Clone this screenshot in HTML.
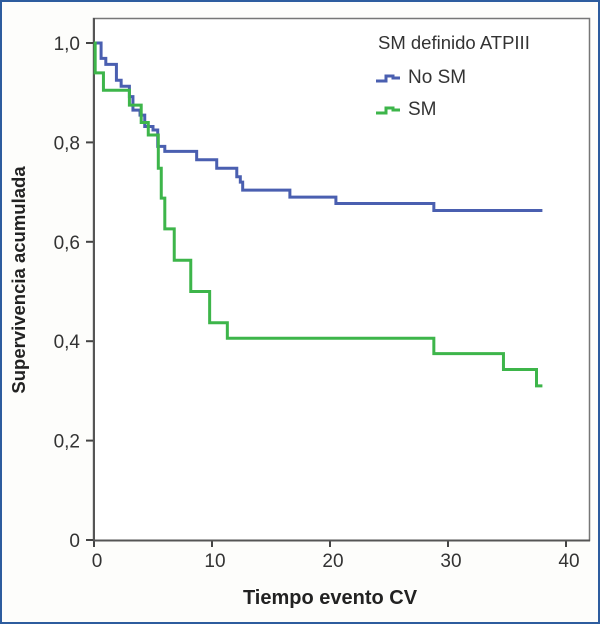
<!DOCTYPE html>
<html><head><meta charset="utf-8"><style>
body{margin:0;background:#fff;}
svg{display:block;font-family:"Liberation Sans",sans-serif;}
</style></head><body>
<svg id="chart" width="600" height="624" viewBox="0 0 600 624">
<rect x="1" y="1" width="598" height="622" fill="#fdfdfb" stroke="#2d5c9e" stroke-width="2"/>
<rect x="93.5" y="18.5" width="496" height="522" fill="#fff" stroke="#777" stroke-width="1.5"/>
<g id="axes"></g>
<g id="series"></g>
<text x="0" y="0" transform="translate(25,280) rotate(-90)" text-anchor="middle" font-size="18.5" font-weight="bold" fill="#222">Supervivencia acumulada</text>
<text x="330" y="604" text-anchor="middle" font-size="20" font-weight="bold" fill="#222">Tiempo evento CV</text>
<g>
<text x="378" y="49" font-size="18.5" fill="#333">SM definido ATPIII</text>
<path d="M376 81 H386 V76 H393 V78 H400" fill="none" stroke="#4a5fb0" stroke-width="3"/>
<text x="408" y="83" font-size="19" fill="#333">No SM</text>
<path d="M376 113 H386 V108 H393 V110 H400" fill="none" stroke="#3db54a" stroke-width="3"/>
<text x="408" y="115" font-size="19" fill="#333">SM</text>
</g>
</svg>
<script>
const xTicks=[0,10,20,30,40];
const yTicks=[0,0.2,0.4,0.6,0.8,1.0];
const yTickLabels=["0","0,2","0,4","0,6","0,8","1,0"];
const noSmTimes=[0,0.6,1.0,1.9,2.3,3.0,3.3,3.9,4.3,5.0,5.4,6.0,8.7,10.4,12.1,12.4,12.6,16.6,20.5,28.8,38];
const noSmSurv=[1.0,0.969,0.957,0.925,0.913,0.892,0.865,0.855,0.832,0.825,0.792,0.782,0.765,0.748,0.731,0.72,0.704,0.69,0.677,0.663,0.663];
const smTimes=[0,0.1,0.8,3.0,4.0,4.6,5.45,5.7,6.0,6.8,8.2,9.8,11.3,28.8,34.7,37.5,38];
const smSurv=[1.0,0.94,0.905,0.875,0.84,0.815,0.748,0.688,0.626,0.563,0.5,0.437,0.406,0.375,0.343,0.31,0.31];
const sx=t=>94+t*11.8;
const sy=v=>540-v*497;
const NS="http://www.w3.org/2000/svg";
const axes=document.getElementById('axes');
function mk(tag,attrs,parent){const e=document.createElementNS(NS,tag);for(const k in attrs)e.setAttribute(k,attrs[k]);parent.appendChild(e);return e;}
xTicks.forEach(t=>{
  const l=mk('line',{x1:sx(t),x2:sx(t),y1:540,y2:547,stroke:'#444','stroke-width':2},axes);
  
  
  const tx=mk('text',{x:sx(t)+3,y:567,'text-anchor':'middle','font-size':19,fill:'#333'},axes);
  tx.textContent=t;
  
  
});
yTicks.forEach((v,i)=>{
  const l=mk('line',{x1:86,x2:94,y1:sy(v),y2:sy(v),stroke:'#444','stroke-width':2},axes);
  
  
  const tx=mk('text',{x:80,y:sy(v)+7,'text-anchor':'end','font-size':19,fill:'#333'},axes);
  tx.textContent=yTickLabels[i];
  
  
});
mk('line',{x1:94,x2:94,y1:18,y2:541,stroke:'#555','stroke-width':2},axes);
mk('line',{x1:93,x2:590,y1:540.5,y2:540.5,stroke:'#555','stroke-width':2},axes);
function stepPath(ts,vs){let d='M'+sx(ts[0])+' '+sy(vs[0]);for(let i=1;i<ts.length;i++){d+=' H'+sx(ts[i])+' V'+sy(vs[i]);}return d;}
const ser=document.getElementById('series');
const p1=mk('path',{d:stepPath(noSmTimes,noSmSurv),fill:'none',stroke:'#4a5fb0','stroke-width':3},ser);


const p2=mk('path',{d:stepPath(smTimes,smSurv),fill:'none',stroke:'#3db54a','stroke-width':3},ser);


</script>
</body></html>
